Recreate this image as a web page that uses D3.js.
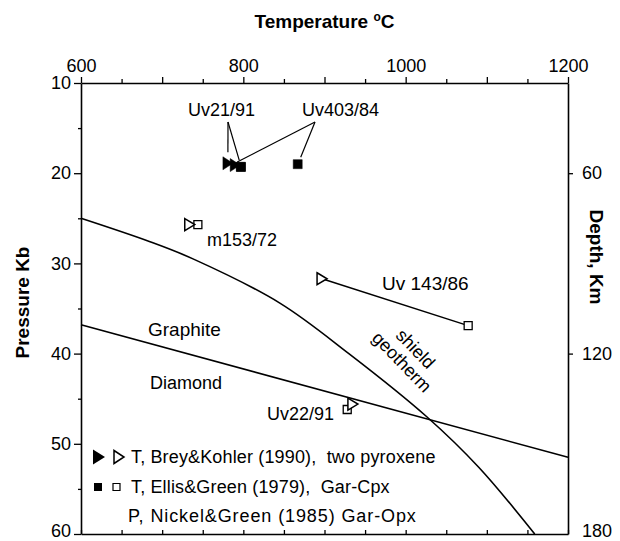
<!DOCTYPE html>
<html>
<head>
<meta charset="utf-8">
<script src="https://cdn.jsdelivr.net/npm/d3@7"></script>
<style>
  html, body { margin: 0; padding: 0; background: #fff; }
  svg { display: block; }
  text { font-family: "Liberation Sans", Arial, Helvetica, sans-serif; fill: #000; }
</style>
</head>
<body>
<svg id="chart" width="620" height="541"></svg>
<script>
// Sample names and P-T estimates
const samples   = ["Uv21/91", "Uv403/84", "m153/72", "Uv 143/86", "Uv22/91"];
const filled    = [true, true, false, false, false];
// Brey & Kohler (1990) two-pyroxene temperatures with Nickel & Green pressures
const bkTemp    = [781, 790, 734, 897, 935];
const bkPress   = [18.9, 19.1, 25.7, 31.7, 45.6];
// Ellis & Green (1979) Gar-Cpx temperatures with Nickel & Green pressures
const egTemp    = [797, 867, 744, 1077, 928];
const egPress   = [19.3, 19.0, 25.7, 36.9, 46.2];

// Graphite / diamond boundary (T, P)
const gdTemp  = [600, 1200];
const gdPress = [36.8, 51.5];

// Shield geotherm (T, P)
const geoTemp  = [600, 685, 738, 845, 930, 1026, 1090, 1159];
const geoPress = [25.0, 27.6, 29.5, 34.4, 40.0, 47.0, 52.6, 60.0];

// Axis ticks
const tempTicks  = [600, 650, 700, 750, 800, 850, 900, 950, 1000, 1050, 1100, 1150, 1200];
const pressTicks = [10, 15, 20, 25, 30, 35, 40, 45, 50, 55, 60];
const depthTicks = [60, 120, 180];

const legendRows = [
  "T, Brey&Kohler (1990),  two pyroxene",
  "T, Ellis&Green (1979),  Gar-Cpx",
  "P, Nickel&Green (1985) Gar-Opx"
];

const svg = d3.select("#chart");
const L = 81, R = 568, T = 83, B = 534;

const x = d3.scaleLinear().domain([600, 1200]).range([L, R]);
const y = d3.scaleLinear().domain([10, 60]).range([T, B]);
const depth = d3.scaleLinear().domain([30, 180]).range([T, B]);

const FS = 18;

// Axes
function styleAxis(g) {
  g.select(".domain").attr("stroke", "#000").attr("stroke-width", 1.6);
  g.selectAll(".tick line").attr("stroke", "#000").attr("stroke-width", 1.3);
  g.selectAll(".tick text").attr("font-size", FS).attr("font-family", "Liberation Sans, Arial, sans-serif");
}

const axTop = svg.append("g").attr("transform", `translate(0,${T})`)
  .call(d3.axisTop(x).tickValues(tempTicks)
    .tickFormat(d => d % 200 === 0 ? d : "").tickSize(5).tickSizeOuter(0).tickPadding(6));
styleAxis(axTop);
axTop.selectAll(".tick line").attr("y2", d => d % 100 === 0 ? -6 : -4);

const axBottom = svg.append("g").attr("transform", `translate(0,${B})`)
  .call(d3.axisBottom(x).tickValues(tempTicks).tickFormat("").tickSize(-4).tickSizeOuter(0));
styleAxis(axBottom);

const axLeft = svg.append("g").attr("transform", `translate(${L},0)`)
  .call(d3.axisLeft(y).tickValues(pressTicks)
    .tickFormat(d => d % 10 === 0 ? d : "").tickSize(7).tickSizeOuter(0).tickPadding(3));
styleAxis(axLeft);
axLeft.selectAll(".tick line").attr("x2", d => d % 10 === 0 ? -7 : -3);
axLeft.selectAll(".tick text").attr("dy", d => d === 60 ? "0.12em" : "0.32em");

const axRight = svg.append("g").attr("transform", `translate(${R},0)`)
  .call(d3.axisRight(depth).tickValues(depthTicks).tickSize(5).tickSizeOuter(0).tickPadding(9));
styleAxis(axRight);
axRight.selectAll(".tick text").attr("dy", d => d === 180 ? "0.12em" : "0.32em");
axRight.selectAll(".tick line").attr("x2", d => d === 180 ? 0 : 5);

// Axis titles
const xTitle = svg.append("text").attr("x", (L + R) / 2).attr("y", 28).attr("text-anchor", "middle")
  .attr("font-size", 19).attr("font-weight", "bold");
xTitle.append("tspan").text("Temperature ");
xTitle.append("tspan").attr("font-size", 12).attr("dy", -7).text("o");
xTitle.append("tspan").attr("dy", 7).text("C");

svg.append("text").attr("transform", `translate(29,${(T + B) / 2 - 6}) rotate(-90)`)
  .attr("text-anchor", "middle").attr("font-size", 19).attr("font-weight", "bold")
  .text("Pressure Kb");

svg.append("text").attr("transform", `translate(590,257) rotate(90)`)
  .attr("text-anchor", "middle").attr("font-size", 19).attr("font-weight", "bold")
  .text("Depth, Km");

// Boundary curves
const plot = svg.append("g");
const straight = d3.line().x(d => x(d[0])).y(d => y(d[1]));
const smooth = d3.line().x(d => x(d[0])).y(d => y(d[1])).curve(d3.curveCatmullRom.alpha(0.5));

plot.append("path").datum(d3.zip(gdTemp, gdPress))
  .attr("d", straight).attr("fill", "none").attr("stroke", "#000").attr("stroke-width", 1.6);

plot.append("path").datum(d3.zip(geoTemp, geoPress))
  .attr("d", smooth).attr("fill", "none")
  .attr("stroke", "#000").attr("stroke-width", 1.6);

// Marker shapes
function tri(cx, cy, w, h) {
  return `M${cx - w / 2},${cy - h / 2}L${cx + w / 2},${cy}L${cx - w / 2},${cy + h / 2}Z`;
}
function sq(cx, cy, s) {
  return `M${cx - s / 2},${cy - s / 2}h${s}v${s}h${-s}Z`;
}

// Tie line for Uv 143/86
plot.append("line")
  .attr("x1", x(bkTemp[3])).attr("y1", y(bkPress[3]))
  .attr("x2", x(egTemp[3])).attr("y2", y(egPress[3]))
  .attr("stroke", "#000").attr("stroke-width", 1.5);

// Leader lines for the clustered samples
const uv21Anchor = [228, 122], uv403Anchor = [315, 122];
const leaders = [
  [uv21Anchor, [x(bkTemp[0]), y(bkPress[0]) - 11]],
  [uv21Anchor, [x(bkTemp[1]) + 4, y(bkPress[1]) - 5]],
  [uv403Anchor, [x(bkTemp[1]) + 2, y(bkPress[1]) - 3]],
  [uv403Anchor, [x(egTemp[1]) + 3, y(egPress[1]) - 7]]
];
plot.selectAll("line.leader").data(leaders).join("line").attr("class", "leader")
  .attr("x1", d => d[0][0]).attr("y1", d => d[0][1])
  .attr("x2", d => d[1][0]).attr("y2", d => d[1][1])
  .attr("stroke", "#000").attr("stroke-width", 1.2);

// Squares (Ellis & Green)
const squares = samples.map((s, i) => ({ t: egTemp[i], p: egPress[i], f: filled[i] }));
squares.push({ t: 797, p: 19.3, f: true });
plot.selectAll("path.sq").data(squares).join("path").attr("class", "sq")
  .attr("d", d => sq(x(d.t), y(d.p), d.f ? 9 : 8))
  .attr("fill", d => d.f ? "#000" : "#fff")
  .attr("stroke", "#000").attr("stroke-width", d => d.f ? 0.5 : 1.3);

// Triangles (Brey & Kohler)
const tris = samples.map((s, i) => ({ t: bkTemp[i], p: bkPress[i], f: filled[i] }));
plot.selectAll("path.tri").data(tris).join("path").attr("class", "tri")
  .attr("d", d => tri(x(d.t), y(d.p), 10, d.f ? 13 : 12))
  .attr("fill", d => d.f ? "#000" : "#fff")
  .attr("stroke", "#000").attr("stroke-width", d => d.f ? 0.5 : 1.5)
  .attr("stroke-linejoin", "miter");

// Sample labels
const labels = svg.append("g").attr("font-size", FS);
labels.append("text").attr("x", 188).attr("y", 116).text(samples[0]);
labels.append("text").attr("x", 302).attr("y", 116).text(samples[1]);
labels.append("text").attr("x", 207).attr("y", 246).text(samples[2]);
labels.append("text").attr("x", 382).attr("y", 290).attr("font-size", 19).text(samples[3]);
labels.append("text").attr("x", 334).attr("y", 420).attr("text-anchor", "end").text(samples[4]);

// Field labels
labels.append("text").attr("x", 148).attr("y", 336).attr("font-size", 19).text("Graphite");
labels.append("text").attr("x", 150).attr("y", 389).text("Diamond");
const geoLabel = labels.append("text").attr("transform", "translate(404,360) rotate(46)")
  .attr("text-anchor", "middle");
geoLabel.append("tspan").attr("x", 0).attr("y", -10).text("shield");
geoLabel.append("tspan").attr("x", 0).attr("y", 9).text("geotherm");

// Legend
const leg = svg.append("g").attr("font-size", FS);
const rowY = [457, 487, 516];
leg.append("path").attr("d", tri(99, rowY[0], 12, 15)).attr("fill", "#000");
leg.append("path").attr("d", tri(119, rowY[0], 10, 13)).attr("fill", "#fff").attr("stroke", "#000").attr("stroke-width", 1.5);
leg.append("path").attr("d", sq(98, rowY[1], 8)).attr("fill", "#000");
leg.append("path").attr("d", sq(116.5, rowY[1], 7)).attr("fill", "#fff").attr("stroke", "#000").attr("stroke-width", 1.2);
leg.selectAll("text").data(legendRows).join("text")
  .attr("x", (d, i) => i === 2 ? 128 : 131)
  .attr("y", (d, i) => rowY[i])
  .attr("dy", "0.36em")
  .attr("letter-spacing", (d, i) => i === 2 ? 0.9 : 0.15)
  .attr("xml:space", "preserve")
  .style("white-space", "pre")
  .text(d => d);
</script>
</body>
</html>
